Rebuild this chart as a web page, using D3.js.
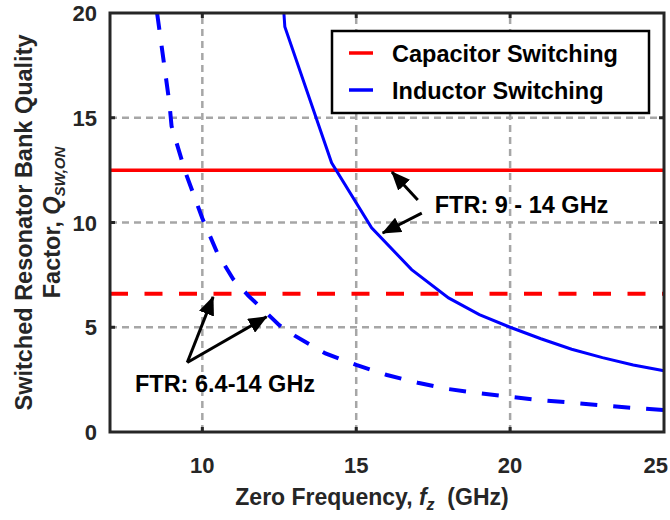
<!DOCTYPE html>
<html>
<head>
<meta charset="utf-8">
<script src="https://cdn.jsdelivr.net/npm/d3@7"></script>
<style>
  body { margin: 0; background: #fff; }
  svg { display: block; font-family: "Liberation Sans", Arial, sans-serif; font-weight: bold; }
</style>
</head>
<body>
<svg id="chart" width="670" height="520"></svg>
<script>
// Values
const xTicks = [10, 15, 20, 25];
const yTicks = [0, 5, 10, 15, 20];

const capSolidQ = 12.5;   // capacitor switching, FTR 9-14 GHz
const capDashQ = 6.6;     // capacitor switching, FTR 6.4-14 GHz

const indSolidF = [12.65, 12.68, 14.2, 15.5, 16.8, 18, 19, 20, 21, 22, 23, 24, 25];
const indSolidQ = [20, 19.35, 12.85, 9.75, 7.75, 6.4, 5.6, 5.0, 4.45, 3.95, 3.55, 3.2, 2.92];

const indDashF = [8.53, 8.93, 9.0, 9.45, 10, 10.5, 11, 11.5, 12, 12.5, 13, 14, 15, 16, 17, 18, 19, 20, 21, 22, 23, 24, 25];
const indDashQ = [20, 15.7, 14.6, 12.4, 10.2, 8.5, 7.3, 6.5, 5.8, 5.1, 4.6, 3.75, 3.2, 2.72, 2.35, 2.05, 1.85, 1.68, 1.52, 1.4, 1.27, 1.15, 1.05];

const legendLabels = ["Capacitor Switching", "Inductor Switching"];
const legendColors = ["#ff0000", "#0000ff"];

// annotation anchors in data units: [tail, tip]
const ann1Text = "FTR: 9 - 14 GHz";
const ann1Pos = [17.55, 10.45];
const ann1Arrows = [[[17.0, 11.07], [16.16, 12.41]], [[17.13, 10.45], [15.86, 9.5]]];
const ann2Text = "FTR: 6.4-14 GHz";
const ann2Pos = [7.81, 1.91];
const ann2Arrows = [[[9.51, 3.32], [10.35, 6.45]], [[9.51, 3.32], [12.09, 5.5]]];

const margin = { top: 13, right: 6, bottom: 88, left: 110 };
const width = 670, height = 520;
const svg = d3.select("#chart");

const x = d3.scaleLinear().domain([7, 25]).range([margin.left, width - margin.right]);
const y = d3.scaleLinear().domain([0, 20]).range([height - margin.bottom, margin.top]);

const axisColor = "#262626";
const gridColor = "#a6a6a6";

// grid
const grid = svg.append("g");
grid.selectAll(".vg").data(xTicks.filter(d => d < 25)).enter().append("line")
    .attr("x1", d => x(d)).attr("x2", d => x(d))
    .attr("y1", y(0)).attr("y2", y(20))
    .attr("stroke", gridColor).attr("stroke-width", 2.5)
    .attr("stroke-dasharray", "7,5");
grid.selectAll(".hg").data(yTicks.filter(d => d > 0 && d < 20)).enter().append("line")
    .attr("x1", x(7)).attr("x2", x(25))
    .attr("y1", d => y(d)).attr("y2", d => y(d))
    .attr("stroke", gridColor).attr("stroke-width", 2.5)
    .attr("stroke-dasharray", "7,5");

// data
const plot = svg.append("g");
const line = d3.line().x(d => x(d[0])).y(d => y(d[1]));

plot.append("line")
    .attr("x1", x(7)).attr("x2", x(25))
    .attr("y1", y(capSolidQ)).attr("y2", y(capSolidQ))
    .attr("stroke", "#ff0000").attr("stroke-width", 3.5);
plot.append("line")
    .attr("x1", x(7)).attr("x2", x(25))
    .attr("y1", y(capDashQ)).attr("y2", y(capDashQ))
    .attr("stroke", "#ff0000").attr("stroke-width", 4)
    .attr("stroke-dasharray", "18,16.5");

plot.append("path")
    .datum(d3.zip(indSolidF, indSolidQ))
    .attr("d", line)
    .attr("fill", "none").attr("stroke", "#0000ff").attr("stroke-width", 3);
plot.append("path")
    .datum(d3.zip(indDashF, indDashQ))
    .attr("d", line)
    .attr("fill", "none").attr("stroke", "#0000ff").attr("stroke-width", 4)
    .attr("stroke-dasharray", "17,16");

// axes box and ticks
const axes = svg.append("g");
axes.append("rect")
    .attr("x", x(7)).attr("y", y(20))
    .attr("width", x(25) - x(7)).attr("height", y(0) - y(20))
    .attr("fill", "none").attr("stroke", axisColor).attr("stroke-width", 3);

const tickLen = 5;
xTicks.filter(d => d < 25).forEach(d => {
    axes.append("line").attr("x1", x(d)).attr("x2", x(d))
        .attr("y1", y(0)).attr("y2", y(0) - tickLen)
        .attr("stroke", axisColor).attr("stroke-width", 3);
    axes.append("line").attr("x1", x(d)).attr("x2", x(d))
        .attr("y1", y(20)).attr("y2", y(20) + tickLen)
        .attr("stroke", axisColor).attr("stroke-width", 3);
});
yTicks.filter(d => d > 0 && d < 20).forEach(d => {
    axes.append("line").attr("x1", x(7)).attr("x2", x(7) + tickLen)
        .attr("y1", y(d)).attr("y2", y(d))
        .attr("stroke", axisColor).attr("stroke-width", 3);
    axes.append("line").attr("x1", x(25)).attr("x2", x(25) - tickLen)
        .attr("y1", y(d)).attr("y2", y(d))
        .attr("stroke", axisColor).attr("stroke-width", 3);
});

axes.selectAll(".xl").data(xTicks).enter().append("text")
    .attr("x", d => x(d)).attr("y", y(0) + 41)
    .attr("text-anchor", d => d === 25 ? "end" : "middle")
    .attr("dx", d => d === 25 ? 4 : 0)
    .attr("font-size", 22).attr("fill", axisColor)
    .text(d => d);
axes.selectAll(".yl").data(yTicks).enter().append("text")
    .attr("x", x(7) - 13).attr("y", d => y(d) + 8)
    .attr("text-anchor", "end")
    .attr("font-size", 22).attr("fill", axisColor)
    .text(d => d);

// axis titles
const xTitle = svg.append("text")
    .attr("x", 372).attr("y", 505)
    .attr("text-anchor", "middle").attr("font-size", 23).attr("fill", axisColor);
xTitle.append("tspan").text("Zero Frequency, ");
xTitle.append("tspan").attr("font-style", "italic").text("f");
xTitle.append("tspan").attr("font-style", "italic").attr("font-size", 16).attr("dy", 5).text("z");
xTitle.append("tspan").attr("dy", -5).text("\u00a0 (GHz)");

const yMid = (y(0) + y(20)) / 2;
svg.append("text")
    .attr("transform", `translate(32,${yMid}) rotate(-90)`)
    .attr("text-anchor", "middle").attr("font-size", 23.5).attr("fill", axisColor)
    .text("Switched Resonator Bank Quality");
const yTitle2 = svg.append("text")
    .attr("transform", `translate(60,${yMid}) rotate(-90)`)
    .attr("text-anchor", "middle").attr("font-size", 23.5).attr("fill", axisColor);
yTitle2.append("tspan").text("Factor, ");
yTitle2.append("tspan").attr("font-style", "italic").text("Q");
yTitle2.append("tspan").attr("font-style", "italic").attr("font-size", 15).attr("dy", 5).text("SW,ON");

// legend
const lg = svg.append("g");
lg.append("rect")
    .attr("x", 332).attr("y", 31).attr("width", 317).attr("height", 82)
    .attr("fill", "#fff").attr("stroke", "#000").attr("stroke-width", 2.5);
legendLabels.forEach((label, i) => {
    const ly = 53 + i * 37;
    lg.append("line").attr("x1", 349).attr("x2", 373)
        .attr("y1", ly).attr("y2", ly)
        .attr("stroke", legendColors[i]).attr("stroke-width", 3.5);
    lg.append("text").attr("x", 392).attr("y", ly + 8.5)
        .attr("font-size", 23.5).attr("fill", "#000").text(label);
});

// annotations
const defs = svg.append("defs");
defs.append("marker")
    .attr("id", "arrow").attr("markerUnits", "userSpaceOnUse")
    .attr("viewBox", "0 0 19 16").attr("refX", 18).attr("refY", 8)
    .attr("markerWidth", 19).attr("markerHeight", 16).attr("orient", "auto")
    .append("path").attr("d", "M0,0 L19,8 L0,16 Z").attr("fill", "#000");

const ann = svg.append("g");
[[ann1Text, ann1Pos, ann1Arrows], [ann2Text, ann2Pos, ann2Arrows]].forEach(([txt, pos, arrows]) => {
    arrows.forEach(([tail, tip]) => {
        ann.append("line")
            .attr("x1", x(tail[0])).attr("y1", y(tail[1]))
            .attr("x2", x(tip[0])).attr("y2", y(tip[1]))
            .attr("stroke", "#000").attr("stroke-width", 3)
            .attr("marker-end", "url(#arrow)");
    });
    ann.append("text").attr("x", x(pos[0])).attr("y", y(pos[1]))
        .attr("font-size", 23.5).attr("fill", "#000").text(txt);
});
</script>
</body>
</html>
